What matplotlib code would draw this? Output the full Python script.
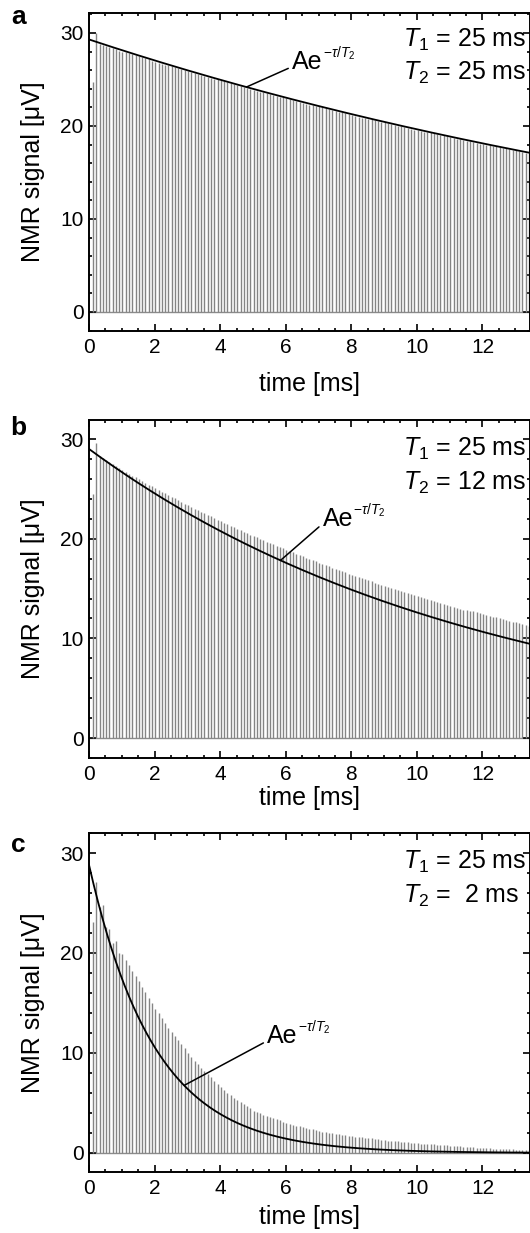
import numpy as np
import matplotlib
matplotlib.use('Agg')
import matplotlib.pyplot as plt
from matplotlib.ticker import MultipleLocator

plt.rcParams['font.family'] = ['Liberation Sans', 'DejaVu Sans']
plt.rcParams['mathtext.fontset'] = 'custom'
plt.rcParams['mathtext.rm'] = 'Liberation Sans'
plt.rcParams['mathtext.it'] = 'Liberation Sans:italic'
plt.rcParams['mathtext.bf'] = 'Liberation Sans:bold'

# panel parameters
panel_names = ['a', 'b', 'c']
T1_ms = [25, 25, 25]
T2_ms = [25, 12, 2]
fit_A = [29.3, 29.0, 28.8]

# echo train (one spike per echo), heights in uV
first_echo = 0.12
echo_spacing = 0.1
echo_a = [24.7, 30.0, 28.8, 28.7, 28.6, 28.5, 28.4, 28.3, 28.1, 28.0,
          27.9, 27.8, 27.7, 27.6, 27.5, 27.4, 27.3, 27.2, 27.0, 26.9,
          26.8, 26.7, 26.6, 26.5, 26.4, 26.3, 26.2, 26.1, 26.0, 25.9,
          25.8, 25.7, 25.6, 25.5, 25.4, 25.3, 25.2, 25.1, 25.0, 24.9,
          24.8, 24.7, 24.6, 24.5, 24.4, 24.3, 24.2, 24.1, 24.0, 23.9,
          23.8, 23.7, 23.6, 23.5, 23.4, 23.3, 23.2, 23.1, 23.1, 23.0,
          22.9, 22.8, 22.7, 22.6, 22.5, 22.4, 22.3, 22.2, 22.1, 22.1,
          22.0, 21.9, 21.8, 21.7, 21.6, 21.5, 21.5, 21.4, 21.3, 21.2,
          21.1, 21.0, 20.9, 20.9, 20.8, 20.7, 20.6, 20.5, 20.4, 20.4,
          20.3, 20.2, 20.1, 20.0, 20.0, 19.9, 19.8, 19.7, 19.6, 19.6,
          19.5, 19.4, 19.3, 19.3, 19.2, 19.1, 19.0, 19.0, 18.9, 18.8,
          18.7, 18.6, 18.6, 18.5, 18.4, 18.4, 18.3, 18.2, 18.1, 18.1,
          18.0, 17.9, 17.8, 17.8, 17.7, 17.6, 17.6, 17.5, 17.4, 17.4,
          17.3, 17.2, 17.1, 17.1]
echo_b = [24.5, 29.6, 28.3, 28.1, 27.9, 27.7, 27.5, 27.3, 27.1, 26.9,
          26.7, 26.5, 26.3, 26.2, 26.0, 25.8, 25.6, 25.4, 25.3, 25.1,
          24.9, 24.7, 24.6, 24.4, 24.2, 24.1, 23.9, 23.7, 23.5, 23.4,
          23.2, 23.0, 22.9, 22.7, 22.6, 22.4, 22.3, 22.1, 21.9, 21.8,
          21.6, 21.5, 21.3, 21.2, 21.0, 20.9, 20.7, 20.6, 20.4, 20.3,
          20.2, 20.0, 19.9, 19.7, 19.6, 19.5, 19.3, 19.2, 19.1, 18.9,
          18.8, 18.7, 18.5, 18.4, 18.3, 18.1, 18.0, 17.9, 17.8, 17.6,
          17.5, 17.4, 17.3, 17.1, 17.0, 16.9, 16.8, 16.7, 16.5, 16.4,
          16.3, 16.2, 16.1, 16.0, 15.9, 15.8, 15.6, 15.5, 15.4, 15.3,
          15.2, 15.1, 15.0, 14.9, 14.8, 14.7, 14.6, 14.5, 14.4, 14.3,
          14.2, 14.1, 14.0, 13.9, 13.8, 13.7, 13.6, 13.5, 13.4, 13.3,
          13.2, 13.1, 13.0, 12.9, 12.9, 12.8, 12.7, 12.6, 12.5, 12.4,
          12.3, 12.2, 12.1, 12.1, 12.0, 11.9, 11.8, 11.7, 11.6, 11.6,
          11.5, 11.4, 11.3, 11.2]
echo_c = [23.1, 27.1, 24.6, 24.8, 22.6, 22.4, 21.0, 21.2, 20.0, 19.9,
          19.3, 18.8, 18.2, 17.7, 17.2, 16.6, 16.1, 15.5, 15.0, 14.4,
          14.0, 13.5, 13.0, 12.5, 12.1, 11.7, 11.3, 10.9, 10.5, 10.0,
          9.6, 9.2, 8.9, 8.5, 8.2, 7.9, 7.6, 7.2, 6.9, 6.6,
          6.3, 6.0, 5.8, 5.5, 5.3, 5.1, 4.9, 4.7, 4.5, 4.2,
          4.1, 4.0, 3.8, 3.7, 3.6, 3.5, 3.4, 3.3, 3.1, 3.0,
          2.9, 2.8, 2.7, 2.7, 2.6, 2.5, 2.4, 2.4, 2.3, 2.2,
          2.1, 2.1, 2.0, 2.0, 1.9, 1.9, 1.8, 1.8, 1.7, 1.65,
          1.6, 1.6, 1.55, 1.5, 1.45, 1.45, 1.4, 1.35, 1.3, 1.25,
          1.2, 1.2, 1.15, 1.15, 1.1, 1.1, 1.05, 1.0, 1.0, 0.95,
          0.9, 0.9, 0.9, 0.85, 0.85, 0.8, 0.8, 0.75, 0.75, 0.7,
          0.7, 0.65, 0.65, 0.6, 0.6, 0.55, 0.55, 0.5, 0.5, 0.45,
          0.45, 0.45, 0.4, 0.4, 0.4, 0.4, 0.35, 0.35, 0.35, 0.33,
          0.3, 0.3, 0.3, 0.28]
echoes = [echo_a, echo_b, echo_c]

# label placement (data coords): text anchor and pointer time on the fit curve
label_xy = [(6.2, 26.9), (7.13, 22.0), (5.44, 11.7)]
pointer_t = [4.8, 5.84, 2.9]

# axes rectangles in figure fraction
rects = [[0.168, 0.7316, 0.832, 0.2579],
         [0.168, 0.3852, 0.832, 0.2741],
         [0.168, 0.0495, 0.832, 0.2749]]
ylims = [(-2.04, 32.15), (-2.0, 31.9), (-1.9, 32.0)]
xlabel_y = [-0.128, -0.083, -0.097]
letter_y = [0.988, 0.976, 0.965]

fig = plt.figure(figsize=(5.3, 12.33), dpi=100)

for i in range(3):
    ax = fig.add_axes(rects[i])
    h = np.array(echoes[i])
    t = first_echo + echo_spacing * np.arange(len(h))
    ax.axhline(0, color='#8c8c8c', lw=1.0, zorder=1)
    ax.vlines(t, 0, h, color='#858585', lw=1.0, zorder=2)

    tt = np.linspace(0, 13.5, 400)
    ax.plot(tt, fit_A[i] * np.exp(-tt / T2_ms[i]), color='k', lw=1.3, zorder=3)

    ax.set_xlim(0, 13.45)
    ax.set_ylim(*ylims[i])
    ax.xaxis.set_major_locator(MultipleLocator(2))
    ax.xaxis.set_minor_locator(MultipleLocator(0.5))
    ax.yaxis.set_major_locator(MultipleLocator(10))
    ax.yaxis.set_minor_locator(MultipleLocator(2))
    ax.tick_params(which='both', direction='in', top=True, right=True, width=1.2)
    ax.tick_params(which='major', length=5, labelsize=15)
    ax.tick_params(axis='x', which='major', pad=5)
    ax.tick_params(axis='y', which='major', pad=4)
    ax.tick_params(which='minor', length=2.5)
    for s in ax.spines.values():
        s.set_linewidth(1.4)

    ax.set_xlabel('time [ms]', fontsize=18)
    ax.xaxis.set_label_coords(0.5, xlabel_y[i])
    ax.set_ylabel('NMR signal [\u03bcV]', fontsize=18)
    ax.yaxis.set_label_coords(-0.1, 0.5)

    ax.text(-0.16, letter_y[i], panel_names[i], transform=ax.transAxes,
            fontsize=19, fontweight='bold', ha='center', va='center')

    ax.text(0.712, 0.915, r'$\mathit{T}_1$ = %d ms' % T1_ms[i],
            transform=ax.transAxes, fontsize=18, va='center', ha='left')
    t2txt = r'$\mathit{T}_2$ = %d ms' % T2_ms[i]
    if T2_ms[i] < 10:
        t2txt = r'$\mathit{T}_2$ =  %d ms' % T2_ms[i]
    ax.text(0.712, 0.813, t2txt, transform=ax.transAxes,
            fontsize=18, va='center', ha='left')

    px = pointer_t[i]
    py = fit_A[i] * np.exp(-px / T2_ms[i])
    ax.annotate('Ae', xy=(px, py), xytext=label_xy[i], fontsize=18,
                ha='left', va='center',
                arrowprops=dict(arrowstyle='-', color='k', lw=1.1,
                                relpos=(0, 0.3), shrinkA=1, shrinkB=0))
    ax.annotate(r'$-\tau/\mathit{T}_2$', xy=label_xy[i], xytext=(22, 6),
                textcoords='offset points', fontsize=10, ha='left', va='center')

fig.savefig('out.png', dpi=100)
